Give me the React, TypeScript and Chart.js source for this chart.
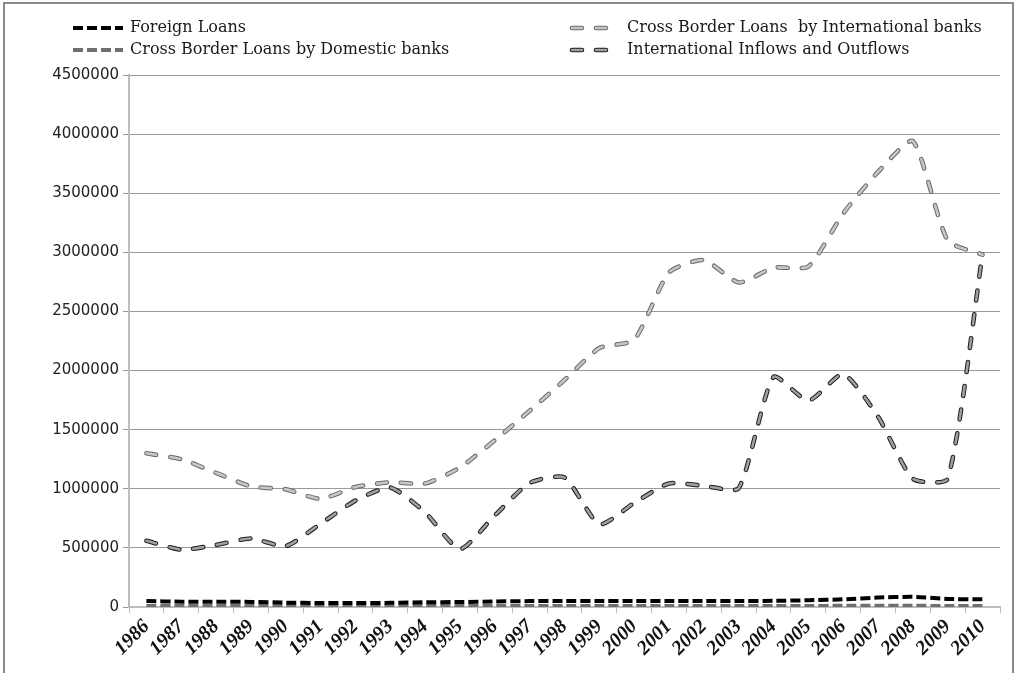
import React, { useEffect, useRef } from "react";
import { Chart, registerables } from "chart.js";

Chart.register(...registerables);

const years = [
  "1986", "1987", "1988", "1989", "1990", "1991", "1992", "1993", "1994", "1995",
  "1996", "1997", "1998", "1999", "2000", "2001", "2002", "2003", "2004", "2005",
  "2006", "2007", "2008", "2009", "2010",
];

const seriesNames = [
  "Foreign Loans",
  "Cross Border Loans  by International banks",
  "Cross Border Loans by Domestic banks",
  "International Inflows and Outflows",
];

const foreignLoans = [
  50000, 45000, 44000, 43000, 37000, 34000, 34000, 35000, 40000, 42000,
  47000, 50000, 50000, 50000, 50000, 50000, 50000, 50000, 52000, 57000,
  65000, 80000, 86000, 68000, 65000,
];

const domesticLoans = [
  9000, 9000, 8000, 8000, 8000, 7000, 7000, 7000, 8000, 8000,
  8000, 9000, 9000, 9000, 9000, 9000, 9000, 9000, 9000, 9000,
  10000, 10000, 10000, 9000, 9000,
];

const intlBanks = [
  1300000, 1250000, 1135000, 1020000, 995000, 915000, 1015000, 1055000, 1045000, 1180000,
  1410000, 1660000, 1920000, 2190000, 2260000, 2830000, 2935000, 2745000, 2870000, 2880000,
  3330000, 3680000, 3940000, 3100000, 2980000,
];

const inflows = [
  560000, 485000, 525000, 580000, 515000, 705000, 900000, 1010000, 800000, 490000,
  775000, 1050000, 1095000, 700000, 880000, 1045000, 1025000, 1005000, 1945000, 1745000,
  1970000, 1610000, 1085000, 1085000, 2990000,
];

const yMin = 0;
const yMax = 4500000;
const yStep = 500000;

const LEGEND_POS = [
  { x0: 73, x1: 123, tx: 130, y: 28 },
  { x0: 572, x1: 607, tx: 627, y: 28 },
  { x0: 73, x1: 123, tx: 130, y: 50 },
  { x0: 572, x1: 607, tx: 627, y: 50 },
];

const legendPlugin = {
  id: "gridLegend",
  afterDraw(chart: any) {
    const ctx = chart.ctx;
    ctx.save();
    chart.data.datasets.forEach((ds: any) => {
      if (ds.legendIndex === undefined) return;
      const p = LEGEND_POS[ds.legendIndex];
      const strokes = [{ color: ds.borderColor, width: ds.borderWidth }];
      if (ds.innerColor) strokes.push({ color: ds.innerColor, width: ds.innerWidth });
      strokes.forEach((s) => {
        ctx.beginPath();
        ctx.setLineDash(ds.borderDash || []);
        ctx.lineCap = ds.borderCapStyle || "butt";
        ctx.strokeStyle = s.color;
        ctx.lineWidth = s.width;
        ctx.moveTo(p.x0, p.y);
        ctx.lineTo(p.x1, p.y);
        ctx.stroke();
      });
      ctx.setLineDash([]);
      ctx.fillStyle = "#1a1a1a";
      ctx.font = "16px 'DejaVu Serif'";
      ctx.textBaseline = "middle";
      ctx.textAlign = "left";
      ctx.fillText(ds.label, p.tx, p.y);
    });
    ctx.restore();
  },
};

export default function App() {
  const ref = useRef<HTMLCanvasElement | null>(null);

  useEffect(() => {
    if (!ref.current) return;
    const common = {
      pointRadius: 0,
      pointHoverRadius: 0,
      fill: false,
      tension: 0.2,
      borderJoinStyle: "round",
    };
    const capsuleDash = [10, 14];
    const chart = new Chart(ref.current, {
      type: "line",
      data: {
        labels: years,
        datasets: [
          {
            ...common,
            label: seriesNames[0],
            data: foreignLoans,
            borderColor: "#000000",
            borderWidth: 4,
            borderDash: [10, 4],
            borderCapStyle: "butt",
            order: 1,
            legendIndex: 0,
          },
          {
            ...common,
            label: seriesNames[1],
            data: intlBanks,
            borderColor: "#6a6a6a",
            borderWidth: 4.6,
            borderDash: capsuleDash,
            borderCapStyle: "round",
            order: 6,
            legendIndex: 1,
            innerColor: "#c6c6c6",
            innerWidth: 2.6,
          },
          {
            ...common,
            label: seriesNames[1] + " (inner)",
            data: intlBanks,
            borderColor: "#c6c6c6",
            borderWidth: 2.6,
            borderDash: capsuleDash,
            borderCapStyle: "round",
            order: 5,
          },
          {
            ...common,
            label: seriesNames[2],
            data: domesticLoans,
            borderColor: "#6f6f6f",
            borderWidth: 4,
            borderDash: [10, 4],
            borderCapStyle: "butt",
            order: 2,
            legendIndex: 2,
          },
          {
            ...common,
            label: seriesNames[3],
            data: inflows,
            borderColor: "#1e1e1e",
            borderWidth: 4.6,
            borderDash: capsuleDash,
            borderCapStyle: "round",
            order: 4,
            legendIndex: 3,
            innerColor: "#a0a0a0",
            innerWidth: 2.6,
          },
          {
            ...common,
            label: seriesNames[3] + " (inner)",
            data: inflows,
            borderColor: "#a0a0a0",
            borderWidth: 2.6,
            borderDash: capsuleDash,
            borderCapStyle: "round",
            order: 3,
          },
        ] as any,
      },
      options: {
        animation: false,
        responsive: true,
        maintainAspectRatio: false,
        layout: { padding: { left: 0, right: 16, top: 75, bottom: 0 } },
        plugins: {
          legend: { display: false },
          tooltip: { enabled: false },
          title: { display: false },
        },
        scales: {
          x: {
            afterFit: (s: any) => {
              s.height = 66;
            },
            offset: true,
            grid: {
              offset: true,
              drawOnChartArea: false,
              drawTicks: true,
              tickLength: 6,
              color: "#bdbdbd",
              lineWidth: 1,
            },
            border: { color: "#bdbdbd", width: 2 },
            ticks: {
              minRotation: 45,
              maxRotation: 45,
              autoSkip: false,
              padding: 2,
              color: "#111",
              font: { family: "'Liberation Serif'", size: 20, weight: "bold", style: "italic" },
            },
          },
          y: {
            min: yMin,
            max: yMax,
            afterFit: (s: any) => {
              s.width = 129;
            },
            grid: {
              color: "#999999",
              lineWidth: 1,
              drawTicks: true,
              tickLength: 6,
            },
            border: { color: "#bdbdbd", width: 2 },
            ticks: {
              stepSize: yStep,
              padding: 4,
              color: "#222",
              font: { family: "'DejaVu Sans'", size: 15 },
              callback: (v: any) => String(v),
            },
          },
        },
      },
      plugins: [legendPlugin],
    } as any);
    return () => chart.destroy();
  }, []);

  return (
    <div style={{ position: "fixed", left: 0, top: 0, width: 1016, height: 673, background: "#fff" }}>
      <canvas ref={ref} />
      <div
        style={{
          position: "absolute",
          left: 3,
          top: 2,
          width: 1007,
          height: 700,
          border: "2px solid #8a8a8a",
          pointerEvents: "none",
        }}
      />
    </div>
  );
}
